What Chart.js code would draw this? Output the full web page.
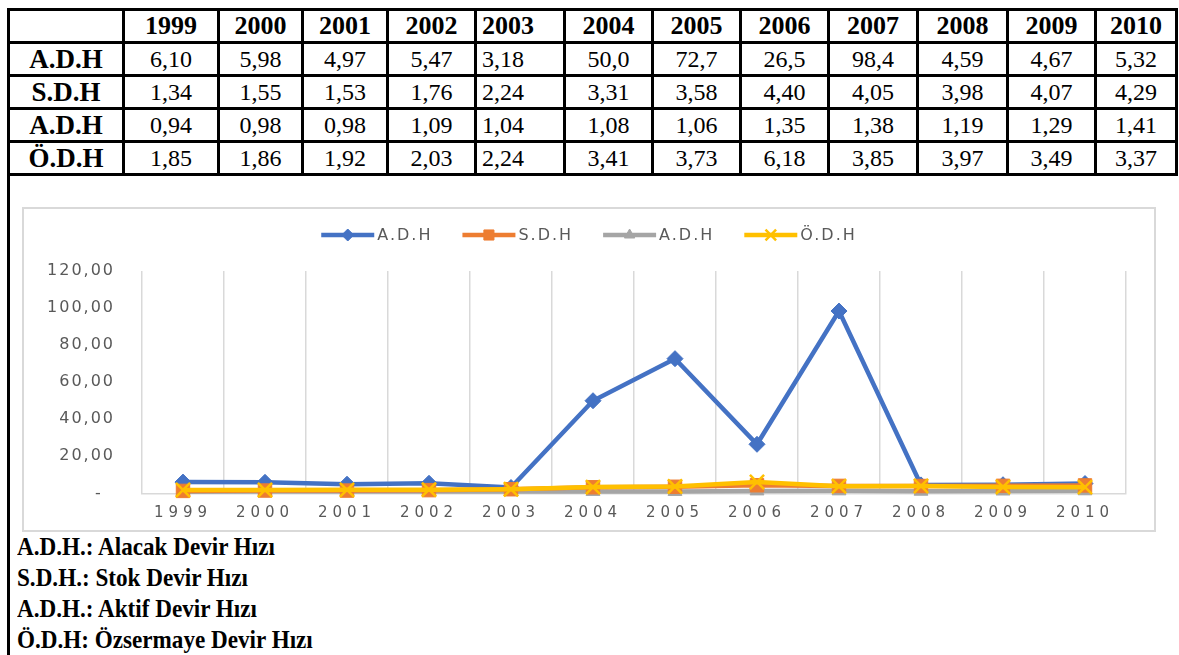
<!DOCTYPE html>
<html>
<head>
<meta charset="utf-8">
<script src="https://cdn.jsdelivr.net/npm/chart.js@4.4.1/dist/chart.umd.min.js"></script>
<style>
  html, body { margin: 0; padding: 0; background: #fff; }
  body { width: 1179px; height: 655px; position: relative; overflow: hidden; color: #000;
         font-family: "Liberation Serif", "Tinos", "Times New Roman", serif; }
  #tbl { position: absolute; left: 7px; top: 8px; width: 1168px;
         border-collapse: collapse; table-layout: fixed; }
  #tbl td { border: 3px solid #000; height: 30px; padding: 0; font-size: 24px;
            text-align: center; vertical-align: middle; line-height: 26px; white-space: nowrap; }
  #tbl tr.head td { font-weight: bold; font-size: 26px; }
  #tbl td.rowhead { font-weight: bold; font-size: 27px; }
  #tbl td.left { text-align: left; padding-left: 5px; }
  #leftRule { position: absolute; left: 7px; top: 174px; width: 3px; height: 481px; background: #000; }
  #chartBox { position: absolute; left: 22px; top: 207px; width: 1130px; height: 321px;
              border: 2px solid #d9d9d9; background: #fff; }
  #chart { display: block; }
  #notes { position: absolute; left: 17px; top: 531px; font-weight: bold; font-size: 26px;
           line-height: 31px; transform: scaleX(0.89); transform-origin: 0 0; white-space: nowrap; }
</style>
</head>
<body>
<table id="tbl"><colgroup id="cols"></colgroup><tbody id="tbody"></tbody></table>
<div id="leftRule"></div>
<div id="chartBox"><canvas id="chart" width="1130" height="321"></canvas></div>
<div id="notes">
  <div>A.D.H.: Alacak Devir Hızı</div>
  <div>S.D.H.: Stok Devir Hızı</div>
  <div>A.D.H.: Aktif Devir Hızı</div>
  <div>Ö.D.H: Özsermaye Devir Hızı</div>
</div>
<script>
// Yearly turnover ratios
const years = ['1999', '2000', '2001', '2002', '2003', '2004', '2005', '2006', '2007', '2008', '2009', '2010'];
const alacakDevir    = [6.10, 5.98, 4.97, 5.47, 3.18, 50.0, 72.7, 26.5, 98.4, 4.59, 4.67, 5.32];
const stokDevir      = [1.34, 1.55, 1.53, 1.76, 2.24, 3.31, 3.58, 4.40, 4.05, 3.98, 4.07, 4.29];
const aktifDevir     = [0.94, 0.98, 0.98, 1.09, 1.04, 1.08, 1.06, 1.35, 1.38, 1.19, 1.29, 1.41];
const ozsermayeDevir = [1.85, 1.86, 1.92, 2.03, 2.24, 3.41, 3.73, 6.18, 3.85, 3.97, 3.49, 3.37];
const seriesNames = ['A.D.H', 'S.D.H', 'A.D.H', 'Ö.D.H'];
const yTicks = [0, 20, 40, 60, 80, 100, 120];

// ---- table above the chart ----
const colWidths = [115, 95, 84, 85, 88, 89, 88, 88, 88, 89, 90, 88, 81];
const leftCol = 5; // the 2003 column is left-aligned
const fmt = v => (v >= 10 ? v.toFixed(1) : v.toFixed(2)).replace('.', ',');
const cols = document.getElementById('cols');
colWidths.forEach(w => { const c = document.createElement('col'); c.style.width = w + 'px'; cols.appendChild(c); });
const tbody = document.getElementById('tbody');
const head = document.createElement('tr'); head.className = 'head';
head.appendChild(document.createElement('td'));
years.forEach((y, i) => { const td = document.createElement('td'); td.textContent = y; if (i + 1 === leftCol) td.className = 'left'; head.appendChild(td); });
tbody.appendChild(head);
[alacakDevir, stokDevir, aktifDevir, ozsermayeDevir].forEach((arr, r) => {
  const tr = document.createElement('tr');
  const th = document.createElement('td'); th.className = 'rowhead'; th.textContent = seriesNames[r]; tr.appendChild(th);
  arr.forEach((v, i) => { const td = document.createElement('td'); td.textContent = fmt(v); if (i + 1 === leftCol) td.className = 'left'; tr.appendChild(td); });
  tbody.appendChild(tr);
});

// ---- chart ----
const TEXT = '#595959';
const GRID = '#d9d9d9';

// wider tracking for axis text, plus a centred line-and-marker legend
const spacingPlugin = {
  id: 'spacing',
  beforeDraw(chart) {
    chart.ctx.letterSpacing = '2px';
    const xs = chart.scales.x;
    if (xs && !xs._tracked) {
      const orig = xs.drawLabels.bind(xs);
      xs._computeLabelArea = () => undefined; // let year labels run below the compact axis box
      xs.drawLabels = function (area) {
        const c = this.ctx; c.save(); c.letterSpacing = '5px'; orig(area); c.restore();
      };
      xs._tracked = true;
    }
  },
  afterDraw(chart) {
    const ctx = chart.ctx;
    ctx.save();
    ctx.font = '16px "DejaVu Sans"';
    ctx.letterSpacing = '2px';
    ctx.textBaseline = 'middle';
    ctx.textAlign = 'left';
    const lineLen = 53, gapText = 3, gapItem = 30, y = 26;
    const items = chart.data.datasets.map(ds => ({ ds, w: lineLen + gapText + ctx.measureText(ds.label).width }));
    const total = items.reduce((a, b) => a + b.w, 0) + gapItem * (items.length - 1);
    let x = (chart.width - total) / 2;
    items.forEach(({ ds, w }) => {
      ctx.strokeStyle = ds.borderColor;
      ctx.lineWidth = ds.borderWidth;
      ctx.beginPath(); ctx.moveTo(x, y); ctx.lineTo(x + lineLen, y); ctx.stroke();
      ctx.fillStyle = ds.pointBackgroundColor;
      ctx.strokeStyle = ds.pointBorderColor;
      ctx.lineWidth = ds.pointBorderWidth;
      Chart.helpers.drawPoint(ctx, { pointStyle: ds.pointStyle, radius: ds.pointRadius * 0.75, borderWidth: ds.pointBorderWidth, rotation: 0 }, x + lineLen / 2, y);
      ctx.fillStyle = TEXT;
      ctx.fillText(ds.label, x + lineLen + gapText, y + 1);
      x += w + gapItem;
    });
    ctx.restore();
  }
};

function series(label, data, color, style, radius, order, bw) {
  return {
    label, data, order,
    borderColor: color, backgroundColor: color, borderWidth: 4.5,
    pointStyle: style, pointRadius: radius, pointHoverRadius: radius,
    pointBackgroundColor: color, pointBorderColor: color, pointBorderWidth: bw,
    tension: 0, clip: false, fill: false
  };
}

new Chart(document.getElementById('chart'), {
  type: 'line',
  data: {
    labels: years,
    datasets: [
      series(seriesNames[0], alacakDevir, '#4472C4', 'rectRot', 8, 3, 1),
      series(seriesNames[1], stokDevir, '#ED7D31', 'rect', 9.5, 2, 1),
      series(seriesNames[2], aktifDevir, '#A5A5A5', 'triangle', 8, 4, 1),
      series(seriesNames[3], ozsermayeDevir, '#FFC000', 'crossRot', 10, 1, 2.5)
    ]
  },
  options: {
    responsive: false,
    animation: false,
    events: [],
    layout: { padding: { top: 62, right: 28, bottom: 10, left: 0 } },
    plugins: { legend: { display: false }, tooltip: { enabled: false } },
    scales: {
      x: {
        type: 'category',
        offset: true,
        afterFit: s => { s.height = 21; },
        grid: { offset: true, color: GRID, lineWidth: 1.5, drawTicks: false },
        border: { display: true, color: GRID, width: 1.5 },
        ticks: { color: TEXT, font: { family: 'DejaVu Sans', size: 15 }, padding: 11, maxRotation: 0, autoSkip: false }
      },
      y: {
        min: 0, max: 120,
        afterBuildTicks: s => { s.ticks = yTicks.map(v => ({ value: v })); },
        afterFit: s => { s.width = 118; },
        grid: { display: false, drawTicks: false },
        border: { display: false },
        ticks: {
          color: TEXT, font: { family: 'DejaVu Sans', size: 16 }, padding: 27,
          callback: v => v === 0 ? '-\u2007' : v.toFixed(2).replace('.', ',')
        }
      }
    }
  },
  plugins: [spacingPlugin]
});
</script>
</body>
</html>
